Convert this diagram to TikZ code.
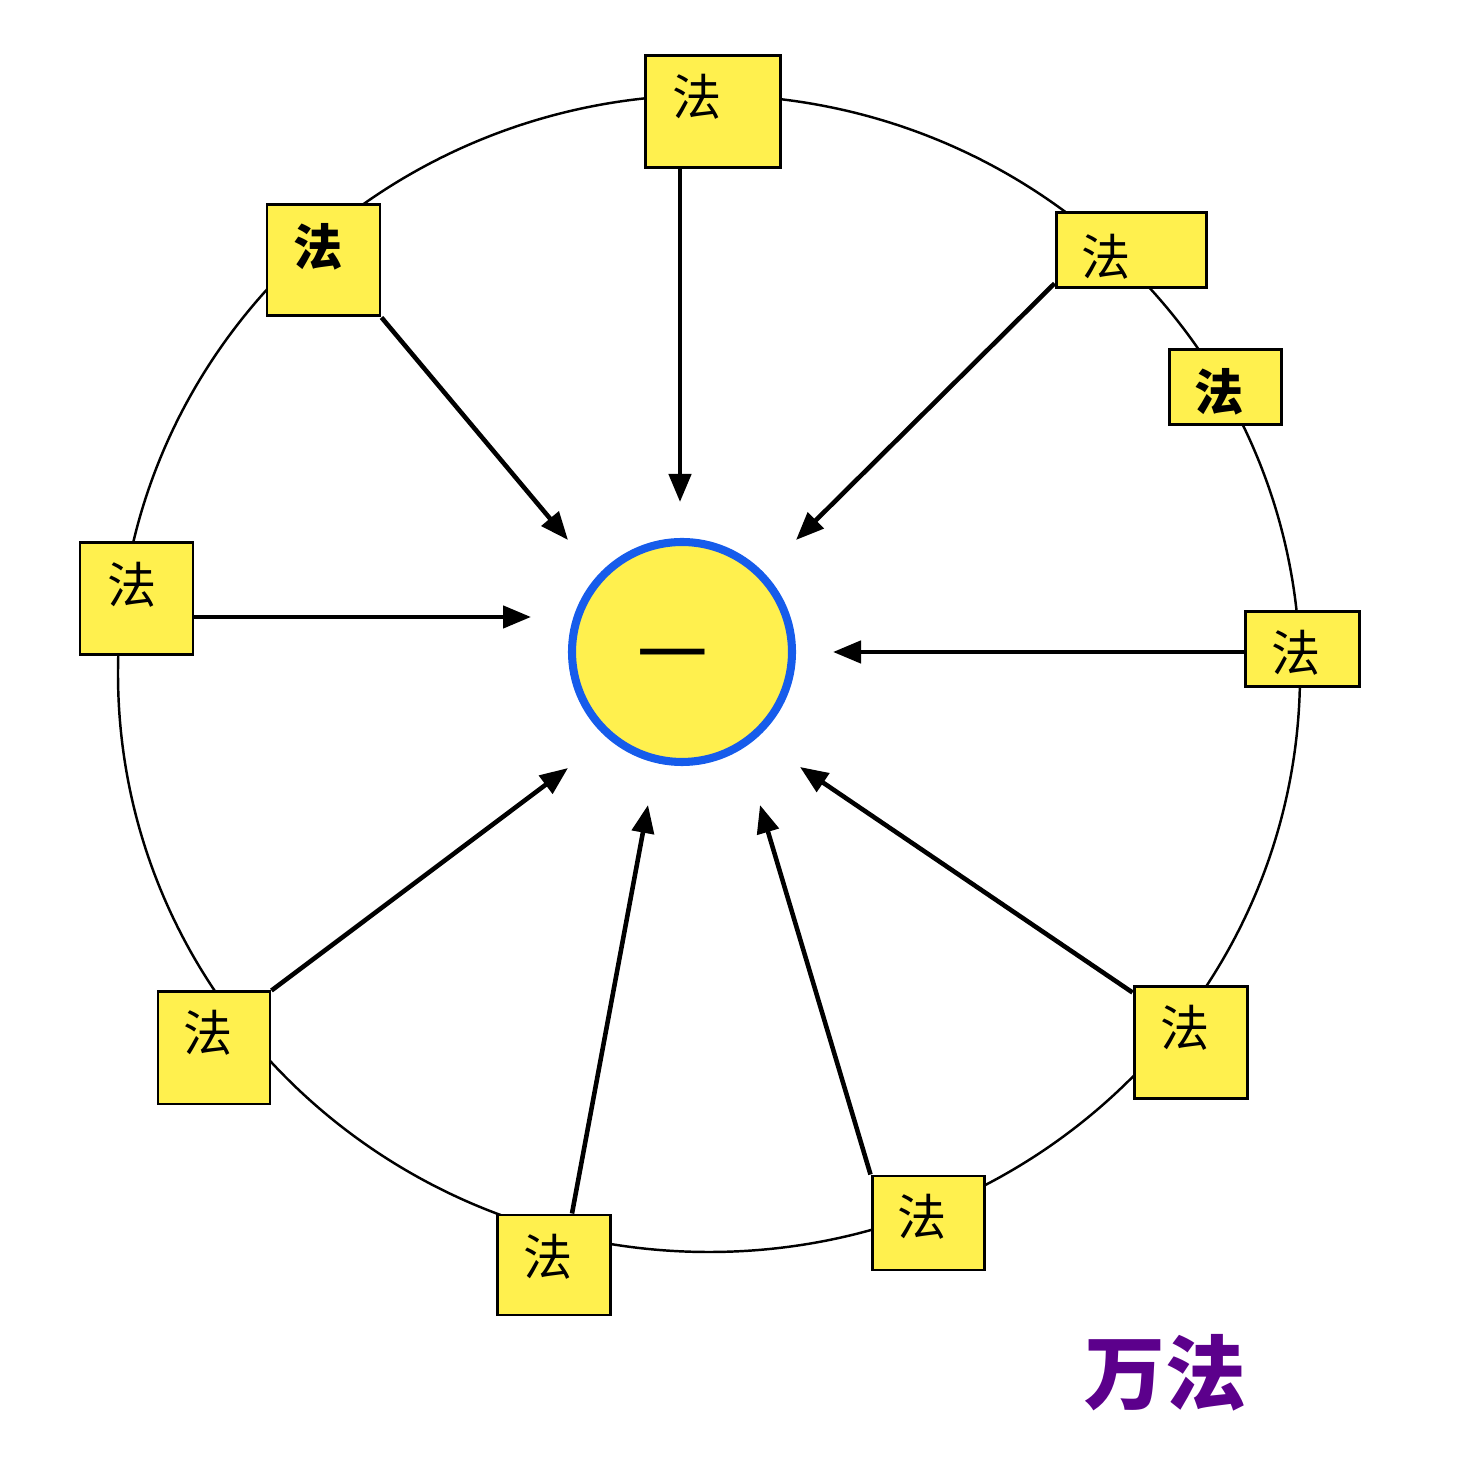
\documentclass[tikz,border=0pt]{standalone}
\usepackage{fontspec}
\newfontfamily\cjk{Noto Sans CJK SC}
\usepackage{xcolor}
\usepackage{tikz}
\usetikzlibrary{arrows.meta,positioning,calc}
\definecolor{boxyellow}{RGB}{255, 240, 78}
\definecolor{ringblue}{RGB}{22, 92, 235}
\definecolor{titlepurple}{RGB}{92, 0, 140}

\begin{document}
\begin{tikzpicture}[
    fabox/.style={draw=black, line width=0.85pt, fill=boxyellow, inner sep=0pt},
    fa/.style={font=\cjk\fontsize{14}{14}\selectfont, inner sep=0pt},
    fabold/.style={font=\cjk\bfseries\fontsize{14}{14}\selectfont, inner sep=0pt},
    toone/.style={line width=1.3pt, -{Triangle[length=0.28cm,width=0.22cm]}}
]
    \useasboundingbox (0,0) rectangle (14.62,14.81);

    % Outer ring
    \draw[line width=0.7pt] (7.09,8.075) ellipse (5.91 and 5.785);

    % Centre
    \node[circle, draw=ringblue, line width=2.3pt, fill=boxyellow, minimum size=2.2cm] (one) at (6.82,8.29) {};
    \node[font=\cjk\fontsize{20}{20}\selectfont, inner sep=0pt] (one-t) at (6.73,8.17) {一};

    % Boxes on the ring
    \node[fabox, minimum width=1.35cm, minimum height=1.12cm] (top) at (7.125,13.69) {};
    \node[fabox, minimum width=1.13cm, minimum height=1.11cm] (ul) at (3.235,12.205) {};
    \node[fabox, minimum width=1.50cm, minimum height=0.75cm] (ur) at (11.31,12.305) {};
    \node[fabox, minimum width=1.12cm, minimum height=0.75cm] (ur2) at (12.25,10.935) {};
    \node[fabox, minimum width=1.13cm, minimum height=1.12cm] (left) at (1.365,8.82) {};
    \node[fabox, minimum width=1.14cm, minimum height=0.75cm] (right) at (13.02,8.315) {};
    \node[fabox, minimum width=1.12cm, minimum height=1.12cm] (ll) at (2.14,4.33) {};
    \node[fabox, minimum width=1.13cm, minimum height=1.00cm] (bot) at (5.535,2.16) {};
    \node[fabox, minimum width=1.12cm, minimum height=0.94cm] (br) at (9.28,2.58) {};
    \node[fabox, minimum width=1.13cm, minimum height=1.12cm] (lr) at (11.905,4.38) {};

    % Box texts
    \node[fa] (top-t) at (6.97,13.84) {法};
    \node[fabold] (ul-t) at (3.18,12.34) {法};
    \node[fa] (ur-t) at (11.06,12.24) {法};
    \node[fabold] (ur2-t) at (12.19,10.89) {法};
    \node[fa] (left-t) at (1.32,8.96) {法};
    \node[fa] (right-t) at (12.96,8.28) {法};
    \node[fa] (ll-t) at (2.08,4.48) {法};
    \node[fa] (bot-t) at (5.48,2.24) {法};
    \node[fa] (br-t) at (9.22,2.64) {法};
    \node[fa] (lr-t) at (11.85,4.53) {法};

    % Arrow tips round the centre
    \coordinate (tip-top) at (6.80,9.79);
    \coordinate (tip-ul) at (5.68,9.41);
    \coordinate (tip-ur) at (7.96,9.41);
    \coordinate (tip-left) at (5.31,8.64);
    \coordinate (tip-right) at (8.33,8.29);
    \coordinate (tip-ll) at (5.68,7.13);
    \coordinate (tip-bot) at (6.48,6.76);
    \coordinate (tip-br) at (7.60,6.76);
    \coordinate (tip-lr) at (8.00,7.14);

    % Arrows
    \draw[toone] (top.south -| tip-top) -- (tip-top);
    \draw[toone] (ul.south east) -- (tip-ul);
    \draw[toone] ($(ur.south west)+(0,0.06)$) -- (tip-ur);
    \draw[toone] (left.east |- tip-left) -- (tip-left);
    \draw[toone] (right.west |- tip-right) -- (tip-right);
    \draw[toone] (ll.north east) -- (tip-ll);
    \draw[toone] ($(bot.north)+(0.185,0)$) -- (tip-bot);
    \draw[toone] (br.north west) -- (tip-br);
    \draw[toone] ($(lr.north west)+(0,-0.07)$) -- (tip-lr);

    % Title
    \node[font=\cjk\bfseries\fontsize{23}{23}\selectfont, text=titlepurple] (title) at (11.65,1.08) {万法};
\end{tikzpicture}
\end{document}
